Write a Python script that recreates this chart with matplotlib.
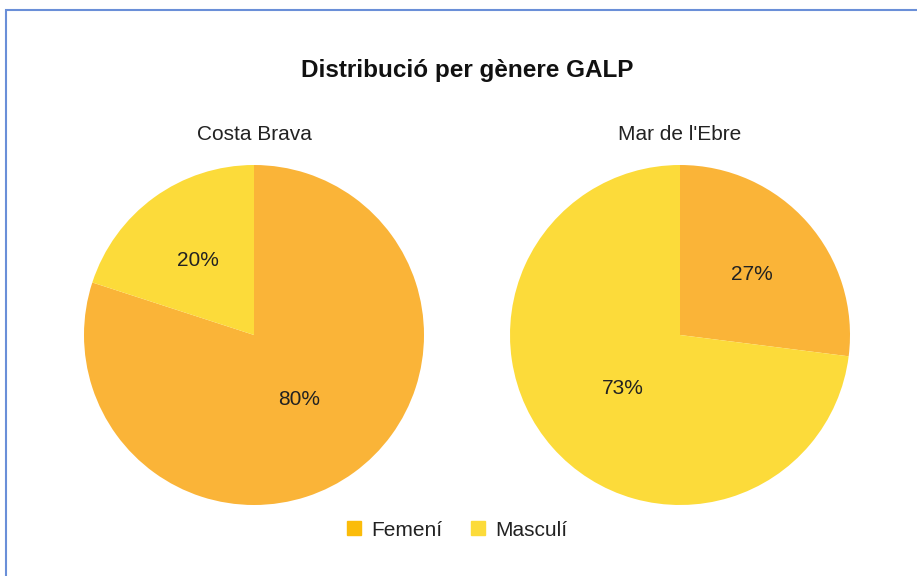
import matplotlib
matplotlib.use('Agg')
import matplotlib.pyplot as plt
from matplotlib.lines import Line2D
from matplotlib.patches import Rectangle

plt.rcParams['font.family'] = ['Liberation Sans', 'DejaVu Sans']

title = 'Distribució per gènere GALP'
categories = ['Femení', 'Masculí']
regions = ['Costa Brava', "Mar de l'Ebre"]
costa_brava = [80, 20]
mar_ebre = [27, 73]
values = [costa_brava, mar_ebre]

colors = ['#FAB438', '#FCDB3A']
legend_colors = ['#FBBC0A', '#FCDB3A']
W, H = 917, 576

fig = plt.figure(figsize=(W / 100, H / 100), dpi=100)

# blue frame around the chart (runs off right/bottom edge)
fig.add_artist(Rectangle((6 / W, -0.1), 1.2, 1 - 10 / H + 0.1, transform=fig.transFigure,
                         fill=False, edgecolor='#6A8FD8', linewidth=1.5))

fig.text(467 / W, 1 - 70 / H, title, ha='center', va='center',
         fontsize=17.5, fontweight='bold', color='#111111')

centers = [254, 680]
cy, r = 335, 170
for cx, name, vals in zip(centers, regions, values):
    ax = fig.add_axes([(cx - r) / W, (H - cy - r) / H, 2 * r / W, 2 * r / H])
    wedges, texts, autotexts = ax.pie(vals, colors=colors, startangle=90, counterclock=False,
                                      autopct='%1.0f%%', pctdistance=0.5,
                                      textprops={'fontsize': 15, 'color': '#222222'})
    for v, t in zip(vals, autotexts):
        x, y = t.get_position()
        k = 0.45 / 0.5 if v > 50 else 0.56 / 0.5
        t.set_position((x * k, y * k - 0.015))
    ax.set_xlim(-1, 1)
    ax.set_ylim(-1, 1)
    ax.axis('off')
    fig.text(cx / W, 1 - 135 / H, name, ha='center', va='center', fontsize=15, color='#222222')

handles = [Line2D([], [], marker='s', linestyle='none', markersize=10,
                  markerfacecolor=c, markeredgecolor=c) for c in legend_colors]
fig.legend(handles, categories, loc='center', bbox_to_anchor=(456 / W, 1 - 530 / H),
           ncol=2, frameon=False, fontsize=15, handlelength=0.9, handletextpad=0.35,
           columnspacing=1.3, labelcolor='#222222')

fig.savefig('out.png', dpi=100)
